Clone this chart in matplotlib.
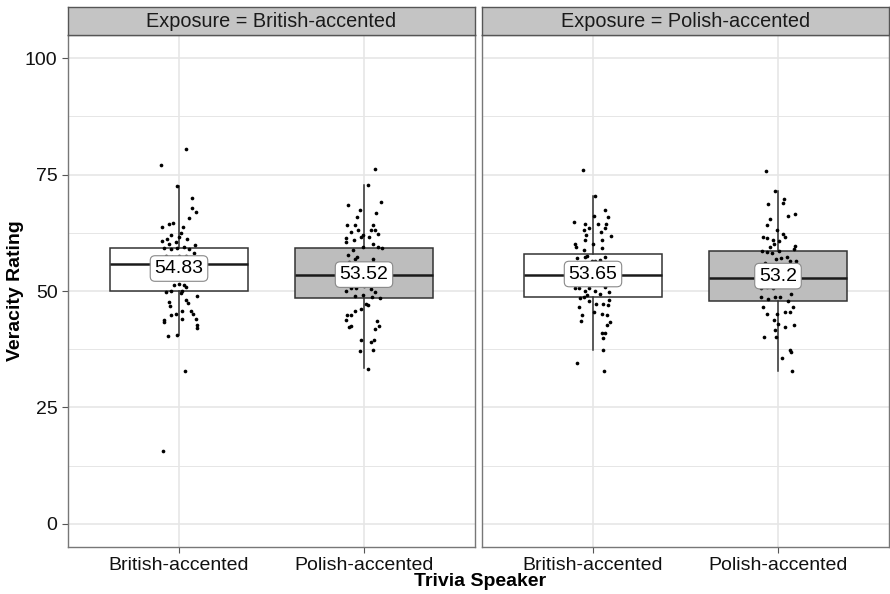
import matplotlib.pyplot as plt

plt.rcParams['font.family'] = ['Liberation Sans', 'DejaVu Sans']

facets = ["British-accented", "Polish-accented"]
speakers = ["British-accented", "Polish-accented"]

# box stats, [facet][speaker]
q1 = [[50.1, 48.4], [48.8, 47.8]]
med = [[55.7, 53.5], [53.5, 52.7]]
q3 = [[59.3, 59.3], [58.0, 58.5]]
whislo = [[40.5, 33.4], [37.3, 32.8]]
whishi = [[72.6, 72.7], [70.5, 71.5]]
means = [[54.83, 53.52], [53.65, 53.2]]

# jittered ratings (value, horizontal jitter in category units)
bb_vals = [80.5, 77.1, 72.6, 69.9, 67.8, 67.0, 65.7, 63.7, 64.3, 64.7, 63.8, 62.5, 61.7, 62.0,
           60.8, 61.2, 61.2, 60.1, 60.5, 59.8, 59.3, 59.0, 59.3, 59.4, 59.0, 57.6, 57.4, 57.5,
           57.6, 58.2, 51.2, 51.5, 51.2, 50.8, 49.8, 50.1, 50.1, 49.5, 48.9, 47.6, 46.8, 48.0,
           47.4, 45.8, 45.8, 44.8, 45.1, 45.1, 43.7, 43.3, 43.9, 43.9, 42.6, 42.1, 40.3, 40.5,
           32.8, 15.6]
bb_jit = [0.040, -0.095, -0.009, 0.072, 0.068, 0.092, 0.054, -0.090, -0.054, -0.032, 0.020, 0.009,
          0.0, -0.045, -0.094, -0.063, 0.045, -0.054, -0.014, 0.086, -0.079, -0.045, -0.009, 0.027,
          0.054, -0.072, -0.036, 0.0, 0.040, 0.083, -0.027, 0.0, 0.027, 0.040, -0.072, -0.045,
          0.018, 0.009, 0.099, -0.054, -0.050, 0.040, 0.050, 0.063, 0.018, -0.045, -0.018, 0.077,
          -0.079, -0.083, 0.018, 0.090, 0.095, 0.095, -0.059, -0.009, 0.032, -0.086]

bp_vals = [76.3, 72.7, 69.1, 68.5, 67.5, 66.7, 65.8, 64.1, 64.1, 63.1, 62.6, 64.2, 63.2, 63.1,
           62.2, 62.1, 61.7, 61.3, 60.6, 60.9, 61.5, 60.2, 59.5, 59.2, 59.4, 58.8, 57.8, 57.4,
           56.9, 56.9, 56.3, 55.9, 55.9, 56.2, 50.1, 50.7, 50.7, 51.0, 50.5, 49.8, 48.9, 49.2,
           48.7, 48.5, 47.1, 47.0, 46.2, 45.8, 44.8, 44.8, 43.8, 43.6, 42.2, 42.4, 42.5, 41.9,
           39.4, 39.5, 39.1, 37.2, 37.3, 33.3]
bp_jit = [0.059, 0.022, 0.094, -0.085, -0.022, 0.063, -0.040, -0.094, -0.050, -0.032, -0.072,
          0.049, 0.040, 0.058, 0.074, -0.005, 0.025, -0.095, -0.099, -0.054, -0.018, 0.049, 0.076,
          0.097, -0.004, -0.061, -0.085, -0.040, -0.047, 0.049, -0.083, -0.023, 0.022, 0.049,
          -0.095, -0.072, -0.045, 0.0, 0.040, 0.058, -0.047, -0.005, 0.043, 0.088, 0.009, 0.022,
          -0.018, -0.047, -0.094, -0.072, -0.099, 0.072, -0.081, -0.068, 0.079, 0.061, -0.018,
          0.052, 0.040, -0.022, 0.050, 0.023]

pb_vals = [76.0, 70.5, 67.5, 65.8, 66.2, 64.9, 64.5, 64.3, 63.5, 64.3, 63.0, 62.6, 63.5, 61.9,
           62.1, 61.0, 61.0, 60.1, 60.0, 59.4, 59.2, 58.8, 57.6, 57.3, 57.1, 57.4, 56.7, 56.5,
           56.5, 50.7, 50.7, 50.7, 50.1, 50.1, 50.8, 49.8, 49.3, 49.1, 48.7, 48.5, 47.8, 48.0,
           47.1, 47.1, 46.9, 46.5, 45.5, 45.1, 44.8, 44.9, 43.5, 43.3, 42.8, 41.0, 40.9, 39.8,
           37.3, 34.6, 32.8]
pb_jit = [-0.056, 0.011, 0.063, 0.081, 0.005, -0.101, 0.070, -0.041, -0.020, 0.027, -0.049,
          0.041, 0.067, 0.099, -0.038, -0.045, 0.049, 0.002, -0.099, -0.092, 0.049, -0.050,
          -0.032, -0.041, -0.086, 0.063, 0.040, -0.005, 0.013, -0.099, -0.077, -0.023, -0.041,
          0.009, 0.063, 0.085, 0.040, -0.032, -0.050, -0.068, -0.020, 0.085, 0.016, 0.052, 0.081,
          -0.077, 0.004, 0.049, 0.076, -0.059, -0.063, 0.094, 0.076, 0.049, 0.063, 0.054, 0.052,
          -0.085, 0.058]

pp_vals = [75.7, 71.5, 69.7, 69.0, 68.7, 66.5, 66.2, 65.5, 64.2, 63.0, 62.3, 61.7, 61.5, 61.4,
           61.0, 60.8, 60.0, 59.5, 59.7, 59.0, 58.7, 58.3, 58.1, 58.5, 57.4, 56.5, 56.9, 57.1,
           56.4, 56.0, 50.7, 50.8, 50.7, 51.0, 51.2, 49.3, 48.7, 48.3, 48.7, 48.8, 47.8, 46.5,
           45.1, 45.1, 45.5, 45.5, 46.5, 43.7, 43.0, 42.8, 42.3, 41.6, 40.1, 40.1, 37.4, 36.9,
           35.5, 32.8]
pp_jit = [-0.067, -0.014, 0.032, 0.027, -0.054, 0.090, 0.054, -0.043, -0.061, -0.004, 0.029,
          0.040, -0.081, -0.058, -0.025, 0.004, -0.022, -0.043, 0.090, 0.086, -0.085, -0.061,
          -0.032, 0.004, 0.047, 0.063, -0.009, 0.018, 0.099, -0.072, -0.090, -0.058, -0.027,
          0.011, 0.054, 0.072, -0.090, -0.054, -0.014, 0.009, 0.054, -0.081, -0.058, -0.004,
          0.040, 0.063, 0.081, -0.023, 0.0, 0.086, 0.040, -0.014, -0.076, -0.009, 0.065, 0.072,
          0.023, 0.077]

points = [[(bb_vals, bb_jit), (bp_vals, bp_jit)],
          [(pb_vals, pb_jit), (pp_vals, pp_jit)]]

box_fill = ["white", "#bdbdbd"]
edge = "#333333"
grid_c = "#e6e6e6"

fig = plt.figure(figsize=(8.9, 5.94), dpi=100)
lefts = [68 / 890, 482 / 890]
w = 407 / 890
bottom, height = 47 / 594, 512 / 594

for i, facet in enumerate(facets):
    ax = fig.add_axes([lefts[i], bottom, w, height])
    stats = []
    for j in range(2):
        stats.append(dict(q1=q1[i][j], med=med[i][j], q3=q3[i][j],
                          whislo=whislo[i][j], whishi=whishi[i][j], fliers=[]))
    bp = ax.bxp(stats, positions=[1, 2], widths=0.75, showfliers=False, showcaps=False,
                patch_artist=True,
                boxprops=dict(edgecolor=edge, linewidth=1.1),
                whiskerprops=dict(color=edge, linewidth=1.1),
                medianprops=dict(color="#1a1a1a", linewidth=1.8),
                zorder=2)
    for patch, fc in zip(bp["boxes"], box_fill):
        patch.set_facecolor(fc)

    for j in range(2):
        vals, jit = points[i][j]
        ax.scatter([j + 1 + d for d in jit], vals, s=7, color="black", zorder=3, linewidths=0)
        ax.text(j + 1, means[i][j], f"{means[i][j]:g}", ha="center", va="center",
                fontsize=14, color="black", zorder=4,
                bbox=dict(boxstyle="round,pad=0.22,rounding_size=0.25", fc="white",
                          ec="#888888", lw=0.8))

    ax.set_xlim(0.4, 2.6)
    ax.set_ylim(-5, 105)
    ax.set_xticks([1, 2], speakers)
    ax.set_yticks([0, 25, 50, 75, 100])
    ax.set_yticks([12.5, 37.5, 62.5, 87.5], minor=True)
    ax.tick_params(which="minor", length=0)
    ax.tick_params(which="major", labelsize=14, length=4, color="#555555", labelcolor="#111111")
    if i == 1:
        ax.tick_params(axis="y", left=False, labelleft=False)
    ax.grid(which="major", color=grid_c, linewidth=1.2, zorder=0)
    ax.grid(which="minor", axis="y", color=grid_c, linewidth=0.7, zorder=0)
    ax.set_axisbelow(True)
    for s in ax.spines.values():
        s.set_color("#777777")
        s.set_linewidth(1.0)

    sax = fig.add_axes([lefts[i], 1 - 35 / 594, w, 28 / 594])
    sax.set_facecolor("#c4c4c4")
    sax.set_xticks([])
    sax.set_yticks([])
    for s in sax.spines.values():
        s.set_color("#555555")
        s.set_linewidth(1.0)
    sax.text(0.5, 0.47, f"Exposure = {facet}", ha="center", va="center",
             fontsize=14.3, color="#1a1a1a", transform=sax.transAxes)

fig.text(480 / 890, 12 / 594, "Trivia Speaker", ha="center", va="center",
         fontsize=14, fontweight="bold")
fig.text(16 / 890, 1 - 291 / 594, "Veracity Rating", ha="center", va="center",
         rotation=90, fontsize=14, fontweight="bold")

fig.savefig("out.png", dpi=100)
